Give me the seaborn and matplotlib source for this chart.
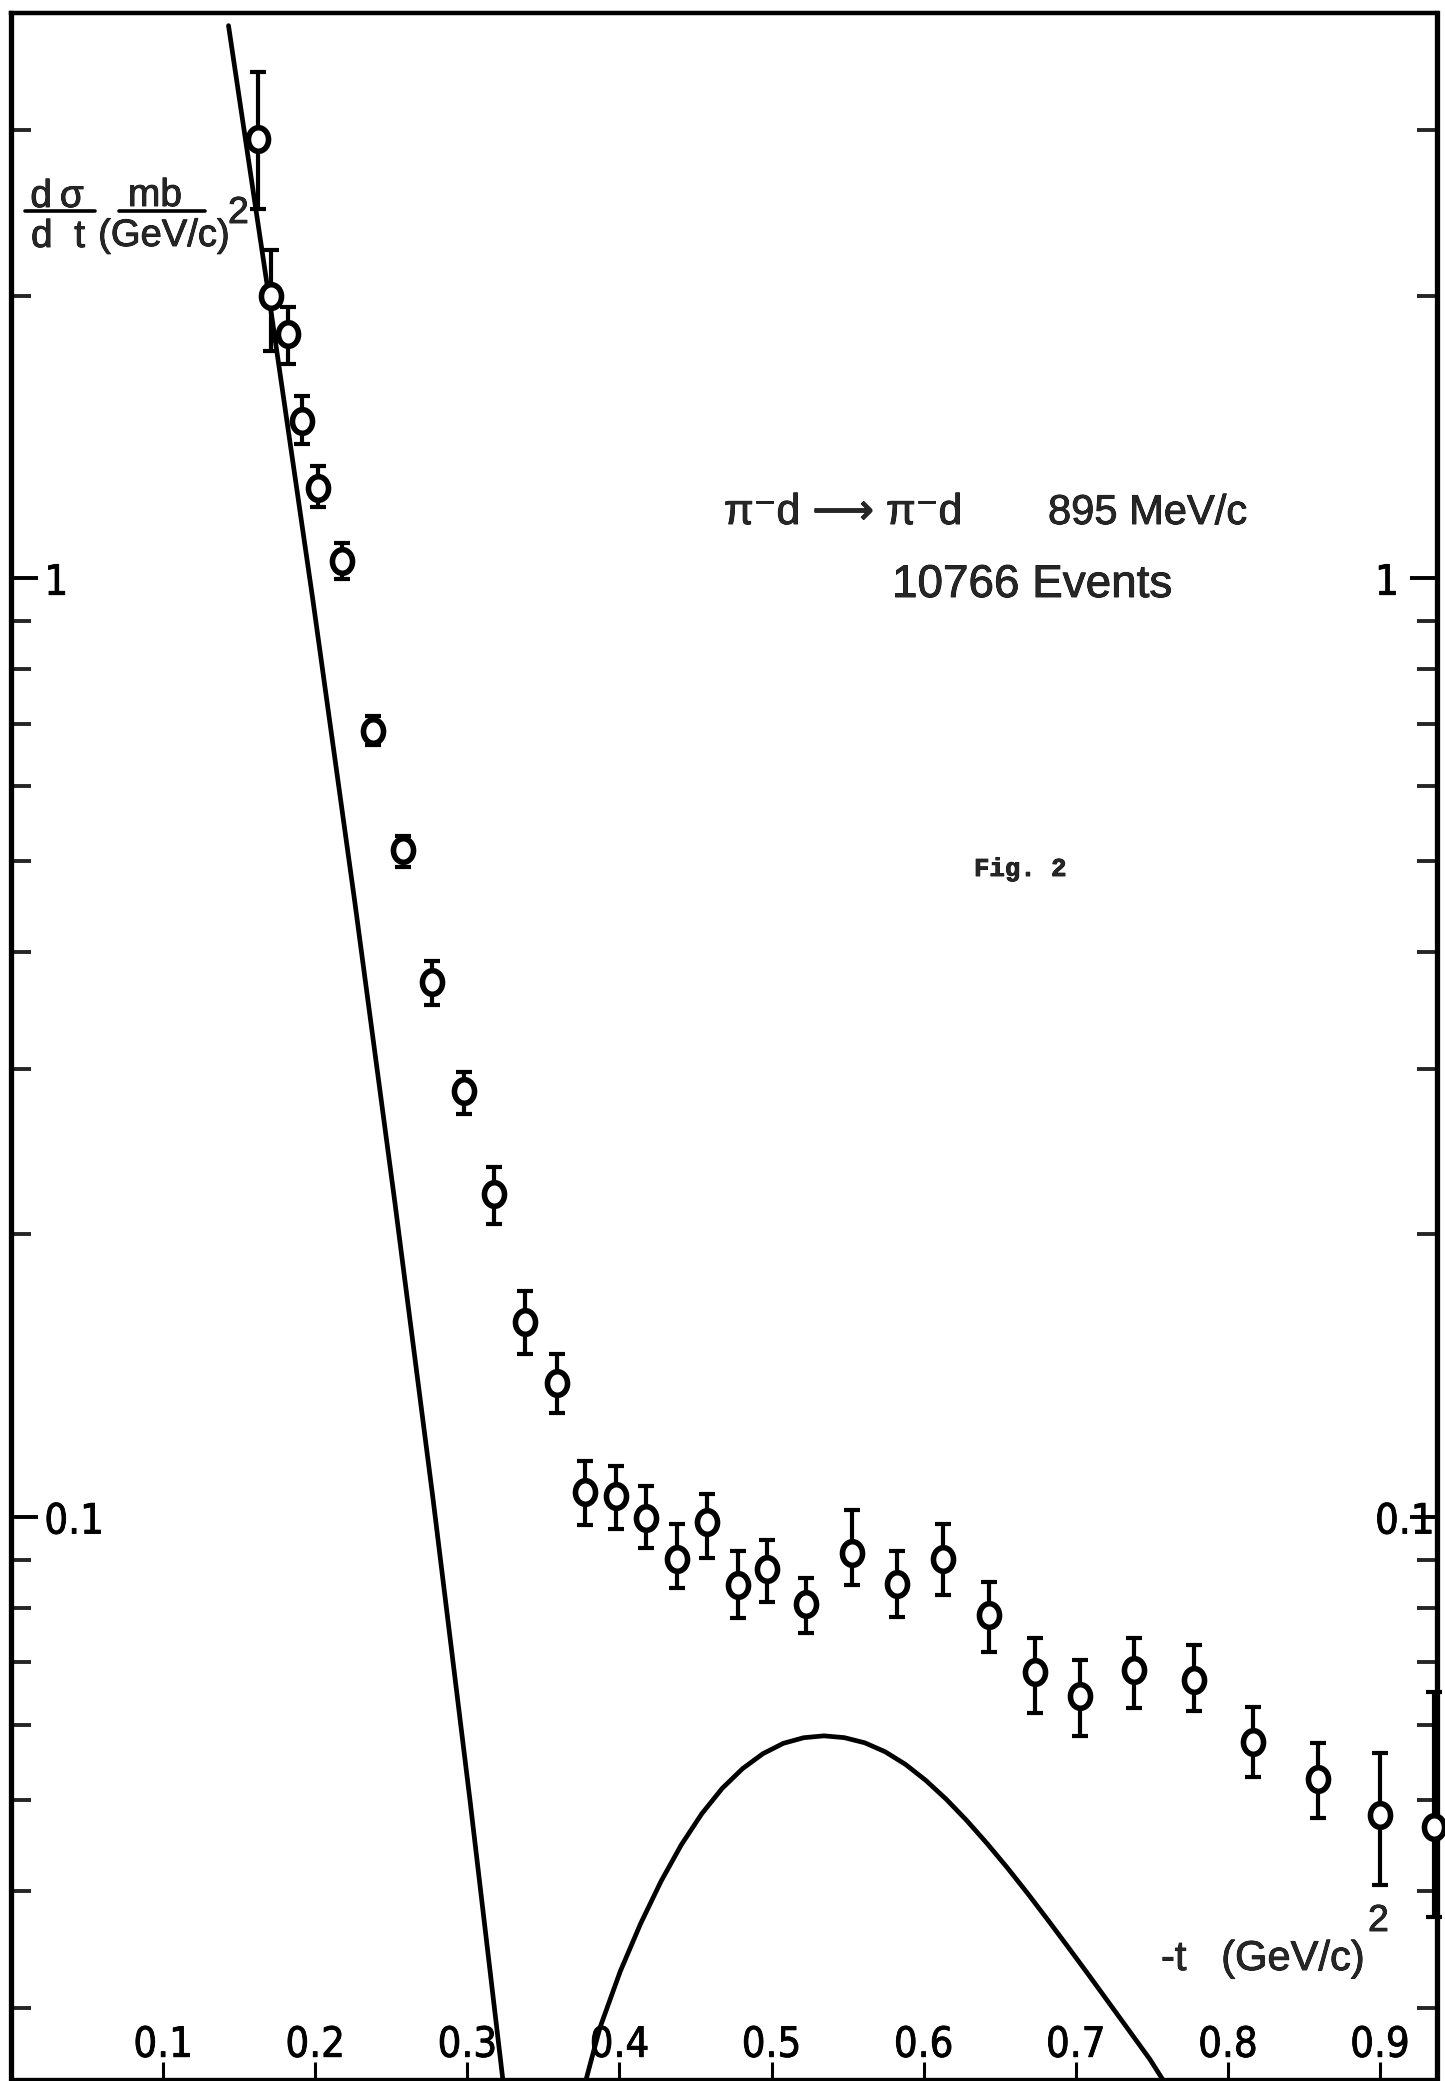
import matplotlib
matplotlib.use("Agg")
import matplotlib.pyplot as plt
from matplotlib import font_manager
from matplotlib import patheffects
from matplotlib.font_manager import FontProperties
from matplotlib.lines import Line2D
from matplotlib.path import Path
from matplotlib.transforms import Affine2D
from matplotlib.ticker import FixedLocator, NullFormatter
import seaborn as sns

# measured points: -t (GeV/c)^2 and dsigma/dt (mb/(GeV/c)^2) with error bar ends
t_data = [0.1623, 0.1711, 0.1824, 0.1912, 0.2016, 0.2173, 0.2383, 0.2575, 0.2767,
          0.2977, 0.3177, 0.3378, 0.3588, 0.3771, 0.3977, 0.4176, 0.4379, 0.4573,
          0.4779, 0.4970, 0.5228, 0.5526, 0.5823, 0.6129, 0.6427, 0.6729, 0.7026,
          0.7384, 0.7777, 0.8166, 0.8591, 0.9000, 0.9358]
xs_data = [2.94, 1.997, 1.822, 1.470, 1.249, 1.044, 0.688, 0.513, 0.371,
           0.284, 0.221, 0.1615, 0.139, 0.1064, 0.1052, 0.0998, 0.0903, 0.0988,
           0.0846, 0.0881, 0.0808, 0.0916, 0.0849, 0.0902, 0.0787, 0.0683, 0.0645,
           0.0687, 0.0671, 0.0576, 0.0526, 0.0482, 0.0468]
xs_hi = [3.46, 2.238, 1.945, 1.564, 1.316, 1.089, 0.713, 0.532, 0.391,
         0.298, 0.236, 0.174, 0.149, 0.1148, 0.1133, 0.108, 0.0983, 0.1057,
         0.0919, 0.0946, 0.0862, 0.1017, 0.0921, 0.0983, 0.0852, 0.0744, 0.0704,
         0.0744, 0.0731, 0.0627, 0.0574, 0.0561, 0.0651]
xs_lo = [2.476, 1.745, 1.691, 1.391, 1.190, 0.998, 0.664, 0.492, 0.351,
         0.269, 0.205, 0.149, 0.129, 0.0981, 0.0972, 0.0927, 0.0840, 0.0905,
         0.078, 0.0812, 0.0753, 0.0846, 0.0782, 0.0825, 0.0718, 0.0619, 0.0585,
         0.0626, 0.0622, 0.0529, 0.0478, 0.0406, 0.0375]

# steep theory curve
t_steep = [0.1430, 0.1699, 0.1985, 0.2259, 0.2522, 0.2776, 0.3018, 0.3235]
xs_steep = [3.878, 1.977, 0.9472, 0.4536, 0.2174, 0.1041, 0.04986, 0.02504]

# hump theory curve
t_hump = [0.3778, 0.3871, 0.4005, 0.4139, 0.4273, 0.4407, 0.4541, 0.4675, 0.4809,
          0.4943, 0.5077, 0.5211, 0.5345, 0.5479, 0.5613, 0.5747, 0.5881, 0.6014,
          0.6148, 0.6282, 0.6416, 0.6550, 0.6684, 0.6818, 0.6952, 0.7086, 0.7220,
          0.7354, 0.7488, 0.7590]
xs_hump = [0.02507, 0.02855, 0.0328, 0.03688, 0.04091, 0.04476, 0.04829, 0.05139,
           0.05394, 0.05596, 0.05740, 0.05820, 0.05847, 0.05821, 0.05748, 0.05623,
           0.05451, 0.05242, 0.05006, 0.04753, 0.04492, 0.04231, 0.03972, 0.03720,
           0.03479, 0.03251, 0.03035, 0.02833, 0.02644, 0.0249]

x_ticks = [0.1, 0.2, 0.3, 0.4, 0.5, 0.6, 0.7, 0.8, 0.9]
x_ticklabels = ["0.1", "0.2", "0.3", "0.4", "0.5", "0.6", "0.7", "0.8", "0.9"]
y_major = [0.1, 1.0]
y_ticklabels = ["0.1", "1"]
y_minor = [0.03, 0.04, 0.05, 0.06, 0.07, 0.08, 0.09,
           0.2, 0.3, 0.4, 0.5, 0.6, 0.7, 0.8, 0.9, 2.0, 3.0]

sns.set_theme(style="white")
plt.rcParams['font.family'] = ['Liberation Sans', 'DejaVu Sans']

# narrow face for the tick numbers if one is installed
narrow = None
for f in font_manager.fontManager.ttflist:
    is_narrow = f.stretch in ('condensed', 'semi-condensed') or 'Narrow' in f.name or 'Condensed' in f.name
    if is_narrow and f.style == 'normal' and f.weight in (400, 'normal', 'regular'):
        if narrow is None or 'Liberation' in f.name:
            narrow = f
if narrow is not None:
    tick_fp = FontProperties(fname=narrow.fname, size=30)
else:
    tick_fp = FontProperties(family='Liberation Sans', size=26)

thin_ink = [patheffects.withStroke(linewidth=0.6, foreground='black')]

W, H = 1445, 2081
fig = plt.figure(figsize=(W / 100, H / 100), dpi=100)
fig.patch.set_facecolor('white')
ax = fig.add_axes([11 / W, 2 / H, (1437 - 11) / W, (2079 - 13) / H])
ax.set_facecolor('white')


def fx(x):
    return x / W


def fy(y):
    return 1 - y / H


# theory curves
sns.lineplot(x=t_steep, y=xs_steep, ax=ax, color='black', lw=3.4,
             sort=False, estimator=None, zorder=2)
sns.lineplot(x=t_hump, y=xs_hump, ax=ax, color='black', lw=3.4,
             sort=False, estimator=None, zorder=2)

# error bars then open (slightly tall) circles on top
yerr = [[v - lo for v, lo in zip(xs_data, xs_lo)],
        [hi - v for v, hi in zip(xs_data, xs_hi)]]
ax.errorbar(t_data, xs_data, yerr=yerr, fmt='none', ecolor='black',
            elinewidth=3.0, capsize=5.5, capthick=3.0, zorder=3, clip_on=False)
oval = Path.unit_circle().transformed(Affine2D().scale(0.85, 1.0))
sns.scatterplot(x=t_data, y=xs_data, ax=ax, marker=oval, s=17 ** 2,
                facecolor='white', edgecolor='black', linewidth=4.0,
                zorder=4, clip_on=False)

ax.set_yscale('log')
ax.set_xlim(0, 0.9375)
ax.set_ylim(0.0252, 4.0)

for side in ['left', 'right', 'top', 'bottom']:
    ax.spines[side].set_visible(True)
    ax.spines[side].set_color('black')
ax.spines['left'].set_linewidth(3.8)
ax.spines['right'].set_linewidth(3.8)
ax.spines['top'].set_linewidth(3.2)
ax.spines['bottom'].set_linewidth(2.4)

# x ticks inside, labels above the ticks
ax.xaxis.set_major_locator(FixedLocator(x_ticks))
ax.set_xticklabels(x_ticklabels)
ax.xaxis.set_minor_locator(FixedLocator([]))
ax.tick_params(axis='x', which='major', direction='in', length=12, width=2.2,
               pad=-16, bottom=True, top=False, colors='black')
for lab in ax.get_xticklabels():
    lab.set_verticalalignment('baseline')
    lab.set_fontproperties(tick_fp)
    lab.set_path_effects(thin_ink)

# y ticks inside on both sides, labels inside the frame
ax.yaxis.set_major_locator(FixedLocator(y_major))
ax.yaxis.set_minor_locator(FixedLocator(y_minor))
ax.yaxis.set_minor_formatter(NullFormatter())
ax.set_yticklabels(y_ticklabels)
ax.tick_params(axis='y', which='major', direction='in', length=19.5, width=2.8,
               pad=-24, left=True, right=True,
               labelleft=True, labelright=True, colors='black')
ax.tick_params(axis='y', which='minor', direction='in', length=14.5, width=2.8,
               left=True, right=True)
for tick in ax.yaxis.get_major_ticks():
    tick.label1.set_horizontalalignment('left')
    tick.label2.set_horizontalalignment('left')
    for lab in (tick.label1, tick.label2):
        lab.set_fontproperties(tick_fp)
        lab.set_path_effects(thin_ink)
    # right-hand labels start well inside the frame
    tick.label2.set_transform(tick.label2.get_transform()
                              + Affine2D().translate(-62 + 24 * 100 / 72, 0))
ax.set_xlabel('')
ax.set_ylabel('')

# y axis label as stacked fractions
lbl = dict(ha='center', va='baseline', path_effects=thin_ink)
fig.text(fx(57), fy(207), 'd\u2009σ', fontsize=28, **lbl)
fig.text(fx(58), fy(247), 'd  t', fontsize=28, **lbl)
fig.text(fx(155), fy(206), 'mb', fontsize=28, **lbl)
fig.text(fx(164), fy(246), '(GeV/c)', fontsize=27.5, **lbl)
fig.text(fx(228), fy(223), '2', fontsize=27, ha='left', va='baseline', path_effects=thin_ink)
fig.add_artist(Line2D([fx(25), fx(95)], [fy(211), fy(211)], color='black', lw=2.6))
fig.add_artist(Line2D([fx(119), fx(205)], [fy(211), fy(211)], color='black', lw=2.6))

# reaction / statistics annotation
fig.text(fx(724), fy(524), 'π\u207bd \u27f6 π\u207bd', fontsize=31, ha='left', va='baseline',
         family=['Liberation Sans', 'DejaVu Sans'], path_effects=thin_ink)
fig.text(fx(1048), fy(524), '895 MeV/c', fontsize=30, ha='left', va='baseline',
         path_effects=thin_ink)
fig.text(fx(892), fy(597), '10766 Events', fontsize=33, ha='left', va='baseline',
         path_effects=thin_ink)
fig.text(fx(974), fy(876), 'Fig. 2', fontsize=18.5, ha='left', va='baseline',
         family='Liberation Mono', fontweight='bold', path_effects=thin_ink)

# x axis title inside the frame
fig.text(fx(1161), fy(1970), '-t   (GeV/c)', fontsize=30, ha='left', va='baseline',
         path_effects=thin_ink)
fig.text(fx(1368), fy(1931), '2', fontsize=27, ha='left', va='baseline',
         path_effects=thin_ink)

fig.savefig('out.png', dpi=100, facecolor='white')
